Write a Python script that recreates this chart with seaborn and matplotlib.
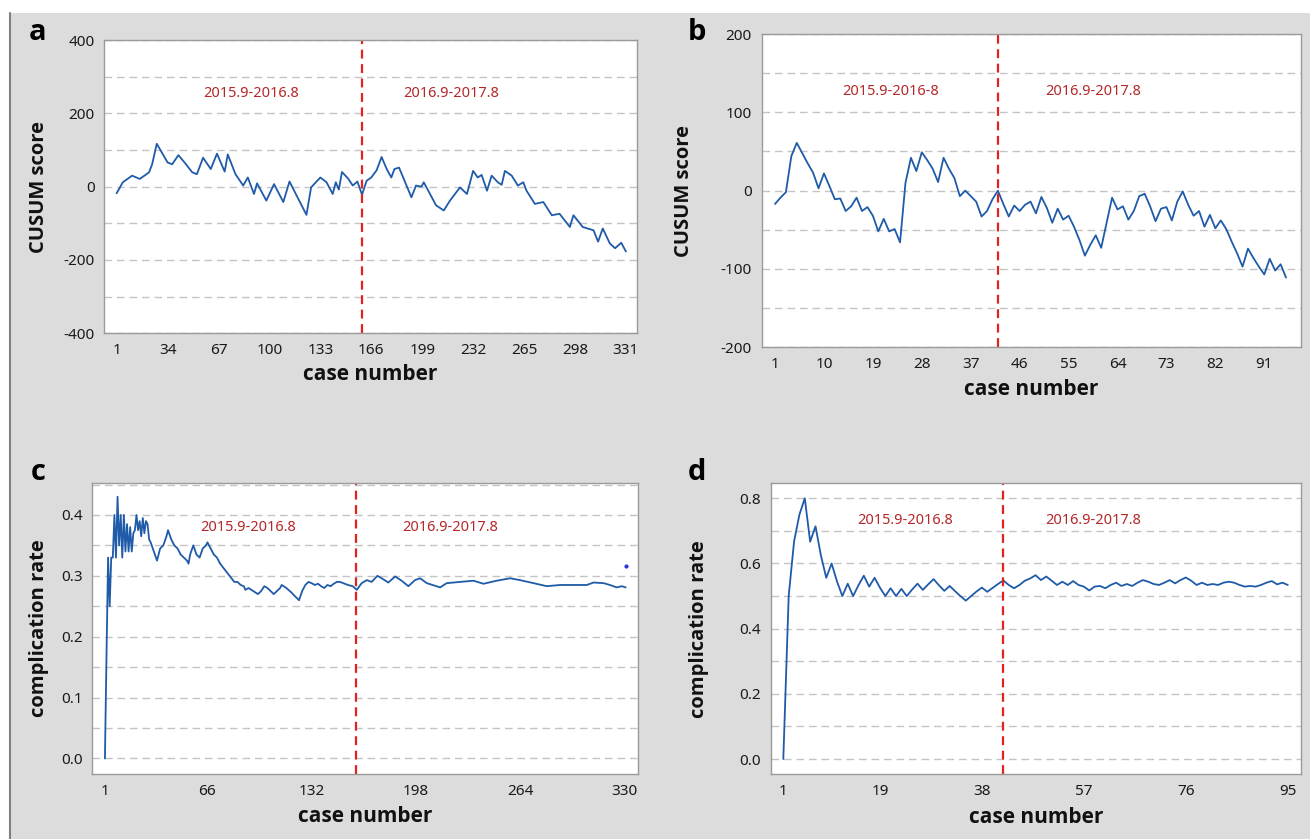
import matplotlib
matplotlib.use("Agg")
import matplotlib.pyplot as plt
import matplotlib.ticker as mticker
from matplotlib import font_manager as fm
from matplotlib.patches import Rectangle
from matplotlib.lines import Line2D
import seaborn as sns

sns.set_theme(style="white")
plt.rcParams['font.family'] = ['Noto Sans', 'DejaVu Sans']


def bold_family():
    # first installed family that really ships a bold face
    for name in ['Open Sans', 'Noto Sans', 'Lato', 'Liberation Sans', 'DejaVu Sans']:
        for f in fm.fontManager.ttflist:
            w = f.weight if isinstance(f.weight, int) else fm.weight_dict.get(f.weight, 400)
            if f.name == name and w >= 700 and f.style == 'normal':
                return name
    return 'DejaVu Sans'


BOLD = bold_family()

# ---- panel a: CUSUM, 331 cases (vertices)
a_case = [1, 5, 11, 16, 22, 24, 27, 34, 37, 41, 45, 50, 53, 57, 62, 66, 71, 73, 78, 83,
          86, 90, 92, 98, 103, 109, 113, 124, 127, 133, 137, 141, 143, 145, 147, 151, 154,
          157, 160, 163, 166, 169.5, 172.7, 176, 179, 181, 184, 192, 195, 198.6, 200, 208,
          213, 217, 223.5, 228, 232, 235, 237.5, 241, 244, 248, 250.5, 252.6, 257, 261,
          264.5, 266.6, 272, 277.5, 283, 288, 294.7, 297, 303, 310, 313, 316, 320.6, 324,
          328, 331]
a_cusum = [-18, 12, 30, 21, 39, 61, 117, 66, 61, 86, 66, 39, 34, 79, 48, 90, 41, 88, 34, 3,
           25, -20, 9, -38, 7, -42, 14, -77, -2, 25, 12, -20, 12, -8, 40, 22, 3,
           14, -22, 16, 25, 45, 81, 48, 25, 48, 52, -29, 3, 0, 12, -51,
           -65, -38, -2, -20, 43, 25, 32, -11, 30, 12, 5, 43, 30, 3,
           12, -11, -47, -42, -78, -74, -110, -78, -110, -119, -150, -114, -155, -168,
           -153, -177]

# ---- panel b: CUSUM, 95 cases
b_cusum = [-17, -9, -2, 44, 61, 48, 35, 23, 3, 22, 6, -11, -10, -26, -20, -9, -26, -21,
           -32, -52, -36, -52, -49, -66, 10, 42, 25, 49, 39, 28, 11, 42, 28, 16, -7, 0,
           -7, -14, -33, -26, -11, 0,
           -17, -33, -19, -26, -18, -14, -29, -8, -22, -41, -23, -37, -32, -46, -63, -83,
           -69, -57, -73, -41, -9, -24, -20, -37, -26, -7, -4, -20, -39, -23, -21, -38,
           -14, -1, -18, -32, -26, -46, -31, -48, -38, -49, -65, -80, -97, -74, -86, -97,
           -107, -87, -102, -94, -111]
b_case = list(range(1, len(b_cusum) + 1))

# ---- panel c: complication rate, 331 cases
c_case = [1, 2, 3, 4, 5, 6, 7, 8, 9, 10, 11, 12, 13, 14, 15, 16, 17, 18, 19, 20,
          21, 22, 23, 24, 25, 26, 27, 28, 29, 30, 32, 34, 36, 38, 40, 41, 43, 45, 47, 49,
          51, 53, 54, 55, 57, 59, 61, 63, 65, 66, 68, 70, 72, 74, 77, 80, 83, 85, 87, 89,
          90, 92, 95, 98, 100, 102, 104, 106, 108, 110, 112, 113, 116, 119, 122, 124, 126,
          128, 130, 132, 134, 136, 138, 140, 142, 144, 146, 148, 150, 152, 155, 158, 160.6,
          163.7, 167, 170, 173.7, 176.4, 180.6, 184.9, 189, 193.3, 197.5, 200.7, 205,
          213.4, 217.6, 226, 234.5, 240.9, 249.3, 257.8, 264, 272.6, 281, 289.5, 298,
          306.4, 310.6, 317, 321, 325.4, 328.6, 331]
c_rate = [0.0, 0.17, 0.33, 0.25, 0.33, 0.33, 0.40, 0.33, 0.43, 0.35, 0.40, 0.33, 0.40,
          0.34, 0.385, 0.34, 0.38, 0.34, 0.37, 0.375,
          0.40, 0.375, 0.39, 0.365, 0.395, 0.37, 0.39, 0.385, 0.36, 0.355, 0.34, 0.325,
          0.345, 0.35, 0.365, 0.375, 0.36, 0.35, 0.345, 0.335,
          0.33, 0.325, 0.32, 0.335, 0.35, 0.335, 0.33, 0.345, 0.35, 0.355, 0.345, 0.335,
          0.33, 0.32, 0.31, 0.30, 0.29, 0.29, 0.285, 0.283,
          0.277, 0.28, 0.275, 0.27, 0.275, 0.283, 0.28, 0.275, 0.27, 0.275, 0.28, 0.285,
          0.28, 0.273, 0.265, 0.26, 0.275,
          0.285, 0.29, 0.288, 0.285, 0.287, 0.283, 0.28, 0.285, 0.283, 0.287, 0.29, 0.29,
          0.288, 0.285, 0.283, 0.277,
          0.288, 0.293, 0.29, 0.30, 0.296, 0.289, 0.299, 0.292, 0.283, 0.293, 0.296, 0.288,
          0.281, 0.288, 0.29, 0.292, 0.287, 0.292, 0.296, 0.293, 0.288, 0.283, 0.285, 0.285,
          0.285, 0.289, 0.288, 0.285, 0.281, 0.283, 0.281]
c_dot_case = [331]
c_dot_rate = [0.316]

# ---- panel d: complication rate, 95 cases
d_rate = [0.0, 0.5, 0.667, 0.75, 0.8, 0.667, 0.714, 0.625, 0.556, 0.6, 0.545, 0.5, 0.538,
          0.5, 0.533, 0.5625, 0.529, 0.556, 0.526, 0.5, 0.524, 0.5, 0.522, 0.5, 0.52,
          0.538, 0.519, 0.536, 0.552, 0.533, 0.516, 0.531, 0.515, 0.5, 0.486, 0.5, 0.514,
          0.526, 0.513, 0.525, 0.537, 0.548,
          0.534, 0.524, 0.534, 0.547, 0.554, 0.564, 0.549, 0.56, 0.547, 0.534, 0.544,
          0.534, 0.546, 0.534, 0.529, 0.517, 0.529, 0.531, 0.524, 0.534, 0.541, 0.531,
          0.537, 0.531, 0.541, 0.549, 0.544, 0.537, 0.534, 0.541, 0.549, 0.539, 0.549,
          0.557, 0.547, 0.534, 0.541, 0.534, 0.537, 0.534, 0.541, 0.544, 0.541, 0.534,
          0.529, 0.531, 0.529, 0.534, 0.541, 0.546, 0.536, 0.541, 0.534]
d_case = list(range(1, len(d_rate) + 1))

period_labels = ['2015.9-2016.8', '2016.9-2017.8']
split_case_a = 160
split_case_b = 42

blue = '#1f5ba8'
red = '#e3211f'
txt_red = '#b5282a'

fig = plt.figure(figsize=(13.1, 8.39), dpi=100)
fig.patch.set_facecolor('white')
fig.add_artist(Rectangle((10 / 1310, 0), 1, 1 - 13 / 839, transform=fig.transFigure,
                         facecolor='#dcdcdc', edgecolor='none', zorder=-10))
fig.add_artist(Line2D([10 / 1310, 10 / 1310], [0, 1 - 13 / 839], transform=fig.transFigure,
                      color='#808080', lw=1.5))


def style_panel(ax, xlim, xticks, ylim, yticks, ygrid, ylabel, fmt, ylab_x, xlab_y):
    ax.set_facecolor('white')
    ax.set_xlim(*xlim)
    ax.set_ylim(*ylim)
    ax.set_xticks(xticks)
    ax.set_yticks(yticks)
    ax.yaxis.set_major_formatter(mticker.FormatStrFormatter(fmt))
    ax.yaxis.set_minor_locator(mticker.FixedLocator(ygrid))
    ax.tick_params(axis='y', which='minor', length=0)
    ax.grid(False)
    ax.grid(True, axis='y', which='both', color='#c4c4c4', linestyle=(0, (5.5, 3.5)), lw=1.0)
    ax.set_axisbelow(True)
    for s in ax.spines.values():
        s.set_color('#9a9a9a')
        s.set_linewidth(1.0)
    ax.tick_params(axis='both', which='major', direction='out', length=4, width=1,
                   color='#9a9a9a', labelsize=11, labelcolor='#1a1a1a', pad=3)
    ax.set_xlabel('case number', fontsize=15, fontweight='bold', family=BOLD, color='#111111')
    ax.set_ylabel(ylabel, fontsize=14.5, fontweight='bold', family=BOLD, color='#111111')
    ax.yaxis.set_label_coords(ylab_x, 0.5)
    ax.xaxis.set_label_coords(0.5, xlab_y)


# a
ax = fig.add_axes([104.3 / 1310, 1 - 333.3 / 839, 532.4 / 1310, 293.3 / 839])
sns.lineplot(x=a_case, y=a_cusum, ax=ax, color=blue, lw=1.3, estimator=None, sort=False)
ax.axvline(split_case_a, color=red, lw=1.6, linestyle=(0, (4, 2.5)))
style_panel(ax, (-7, 338), list(range(1, 332, 33)), (-400, 400), [-400, -200, 0, 200, 400],
            list(range(-300, 301, 100)), 'CUSUM score', '%d', -0.104, -0.103)
ax.text(88, 255, period_labels[0], color=txt_red, fontsize=10.5, ha='center', va='center')
ax.text(218, 255, period_labels[1], color=txt_red, fontsize=10.5, ha='center', va='center')

# b
ax = fig.add_axes([761.7 / 1310, 1 - 347.3 / 839, 539 / 1310, 313.3 / 839])
sns.lineplot(x=b_case, y=b_cusum, ax=ax, color=blue, lw=1.3, estimator=None, sort=False)
ax.axvline(split_case_b, color=red, lw=1.6, linestyle=(0, (4, 2.5)))
style_panel(ax, (-1.45, 97.7), list(range(1, 92, 9)), (-200, 200), [-200, -100, 0, 100, 200],
            list(range(-150, 151, 50)), 'CUSUM score', '%d', -0.125, -0.100)
ax.text(22.2, 126, '2015.9-2016-8', color=txt_red, fontsize=10.5, ha='center', va='center')
ax.text(59.5, 126, period_labels[1], color=txt_red, fontsize=10.5, ha='center', va='center')

# c
ax = fig.add_axes([92.3 / 1310, 1 - 774.3 / 839, 546 / 1310, 291.6 / 839])
sns.lineplot(x=c_case, y=c_rate, ax=ax, color=blue, lw=1.3, estimator=None, sort=False)
ax.scatter(c_dot_case, c_dot_rate, s=4, color='#2a35e0', zorder=5)
ax.axvline(split_case_a, color=red, lw=1.6, linestyle=(0, (4, 2.5)))
style_panel(ax, (-7, 339), [1, 66, 132, 198, 264, 330], (-0.026, 0.453),
            [0.0, 0.1, 0.2, 0.3, 0.4], [i * 0.05 for i in range(10)],
            'complication rate', '%.1f', -0.080, -0.110)
ax.text(91.6, 0.380, period_labels[0], color=txt_red, fontsize=10.5, ha='center', va='center')
ax.text(219.7, 0.380, period_labels[1], color=txt_red, fontsize=10.5, ha='center', va='center')

# d
ax = fig.add_axes([770.7 / 1310, 1 - 774 / 839, 530 / 1310, 290.7 / 839])
sns.lineplot(x=d_case, y=d_rate, ax=ax, color=blue, lw=1.3, estimator=None, sort=False)
ax.axvline(split_case_b, color=red, lw=1.6, linestyle=(0, (4, 2.5)))
style_panel(ax, (-1.35, 97.4), [1, 19, 38, 57, 76, 95], (-0.046, 0.846),
            [0.0, 0.2, 0.4, 0.6, 0.8], [i * 0.1 for i in range(9)],
            'complication rate', '%.1f', -0.117, -0.112)
ax.text(23.7, 0.733, period_labels[0], color=txt_red, fontsize=10.5, ha='center', va='center')
ax.text(58.7, 0.733, period_labels[1], color=txt_red, fontsize=10.5, ha='center', va='center')

# panel letters
for letter, px, py in [('a', 38, 32), ('b', 697, 32), ('c', 38, 473), ('d', 697, 473)]:
    fig.text(px / 1310, 1 - py / 839, letter, fontsize=21, fontweight='bold', family=BOLD,
             ha='center', va='center', color='black')

fig.savefig('out.png', dpi=100)
